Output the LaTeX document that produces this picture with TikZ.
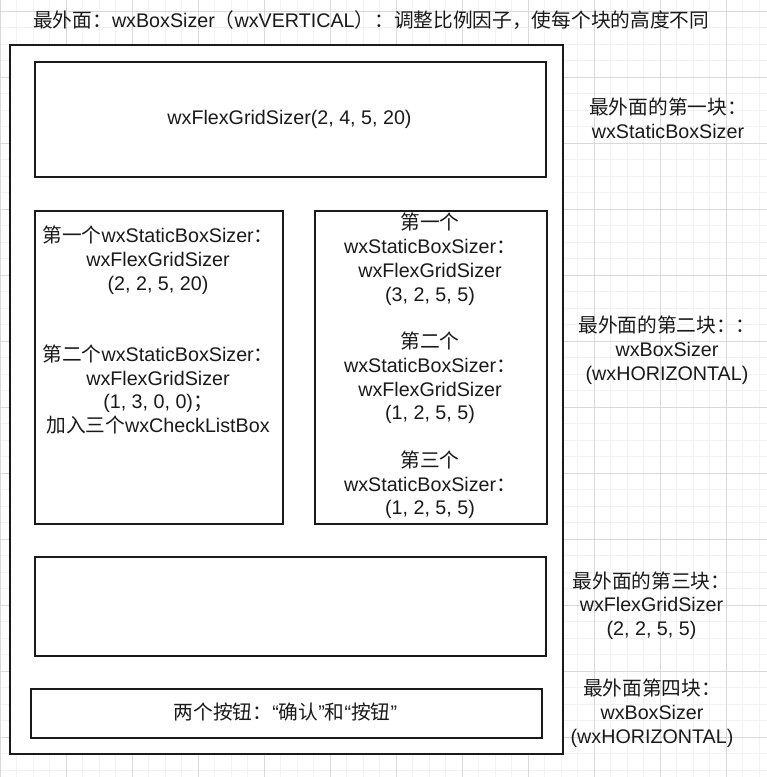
\documentclass[tikz,border=0pt]{standalone}
\usepackage{fontspec}
\setmainfont{Liberation Sans}
\newfontfamily\cjk{Noto Sans CJK SC}
\newcommand\zh[1]{{\cjk #1}}
\definecolor{gminor}{HTML}{F2F2F2}
\definecolor{gmajor}{HTML}{D9D9D9}
\definecolor{ink}{HTML}{1A1A1A}
\begin{document}
\begin{tikzpicture}[x=1pt,y=-1pt,
  box/.style={draw=ink,line width=1.6pt,fill=white,inner sep=0pt,anchor=north west},
  lbl/.style={inner sep=0pt,align=center,font=\fontsize{19.7}{23.75}\selectfont,text=ink}]
\useasboundingbox (0,0) rectangle (767,777);
\fill[white] (0,0) rectangle (767,777);
% grid
\foreach \i in {0,...,46} {\draw[gminor,line width=1pt] ({0.3+16.5*\i},0) -- ({0.3+16.5*\i},777);}
\foreach \i in {-1,...,46} {\draw[gminor,line width=1pt] (0,{11.3+16.5*\i}) -- (767,{11.3+16.5*\i});}
\foreach \i in {0,...,11} {\draw[gmajor,line width=1pt] ({0.3+66*\i},0) -- ({0.3+66*\i},777);}
\foreach \i in {0,...,11} {\draw[gmajor,line width=1pt] (0,{11.3+66*\i}) -- (767,{11.3+66*\i});}
% boxes
\node[box,minimum width=553pt,minimum height=709pt] (outer) at (9,44) {};
\node[box,minimum width=511pt,minimum height=115pt] (b1) at (34,61) {};
\node[box,minimum width=248pt,minimum height=313pt] (bl) at (34,210) {};
\node[box,minimum width=232pt,minimum height=313pt] (br) at (314,210) {};
\node[box,minimum width=511pt,minimum height=99pt] (b3) at (34,556) {};
\node[box,minimum width=511pt,minimum height=49pt] (b4) at (30,688) {};
% texts
\node[lbl,anchor=west] (title) at (33,20) {\zh{最外面：}wxBoxSizer\zh{（}wxVERTICAL\zh{）：调整比例因子，使每个块的高度不同}};
\node[lbl] (t1) at (289.5,119) {wxFlexGridSizer(2, 4, 5, 20)};
\node[lbl] (tl) at (158,330) {\zh{第一个}wxStaticBoxSizer\zh{：}\\ wxFlexGridSizer\\ (2, 2, 5, 20)\\[47.5pt]
  \zh{第二个}wxStaticBoxSizer\zh{：}\\ wxFlexGridSizer\\ (1, 3, 0, 0)\zh{；}\\ \zh{加入三个}wxCheckListBox};
\node[lbl] (tr) at (430,366) {\zh{第一个}\\ wxStaticBoxSizer\zh{：}\\ wxFlexGridSizer\\ (3, 2, 5, 5)\\[23.75pt]
  \zh{第二个}\\ wxStaticBoxSizer\zh{：}\\ wxFlexGridSizer\\ (1, 2, 5, 5)\\[23.75pt]
  \zh{第三个}\\ wxStaticBoxSizer\zh{：}\\ (1, 2, 5, 5)};
\node[lbl] (t4) at (285.5,712) {\zh{两个按钮：}“\zh{确认}”\zh{和}“\zh{按钮}”};
\node[lbl] (r1) at (668,118) {\zh{最外面的第一块：}\\ wxStaticBoxSizer};
\node[lbl] (r2) at (667,350) {\zh{最外面的第二块：：}\\ wxBoxSizer\\ (wxHORIZONTAL)};
\node[lbl] (r3) at (651.5,605.5) {\zh{最外面的第三块：}\\ wxFlexGridSizer\\ (2, 2, 5, 5)};
\node[lbl] (r4) at (652,713) {\zh{最外面第四块：}\\ wxBoxSizer\\ (wxHORIZONTAL)};
\end{tikzpicture}
\end{document}
